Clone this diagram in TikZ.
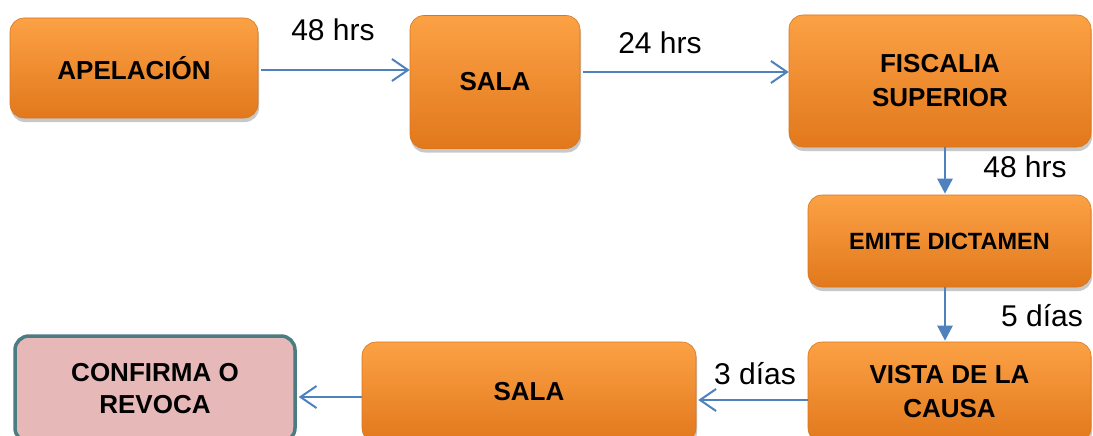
\documentclass[tikz,border=0pt]{standalone}
\usepackage{fontspec}
\setmainfont{Liberation Sans}
\usetikzlibrary{arrows.meta,shadows}
\definecolor{ortop}{HTML}{FCA145}
\definecolor{orbot}{HTML}{E2781C}
\definecolor{oredge}{HTML}{D9761E}
\definecolor{pinkf}{HTML}{E6B9B8}
\definecolor{tealb}{HTML}{4A7D82}
\definecolor{arrblue}{HTML}{4F81BD}
\tikzset{
  obox/.style={rounded corners=14pt, top color=ortop, bottom color=orbot, draw=oredge, line width=0.6pt,
    drop shadow={shadow xshift=1pt, shadow yshift=-4pt, opacity=0.3, fill=black!70},
    align=center, inner sep=0pt, font=\bfseries\fontsize{26}{34}\selectfont},
  pbox/.style={rounded corners=14pt, fill=pinkf, draw=tealb, line width=3.5pt,
    align=center, inner sep=0pt, font=\bfseries\fontsize{26}{32}\selectfont},
  lbl/.style={font=\fontsize{30}{34}\selectfont, inner sep=0pt},
  oarr/.style={draw=arrblue, line width=2pt, -{Straight Barb[length=16pt,width=22pt,line width=2pt]}},
  farr/.style={draw=arrblue, line width=2.5pt, -{Triangle[length=15pt,width=15pt]}}
}
\begin{document}
\begin{tikzpicture}[x=1pt,y=-1pt]
\useasboundingbox (0,0) rectangle (1093,436);
\fill[white] (0,0) rectangle (1093,436);
\node[obox, minimum width=248pt, minimum height=100pt] (apel) at (134,68) {APELACIÓN};
\node[obox, minimum width=170pt, minimum height=133pt] (sala1) at (495,82) {SALA};
\node[obox, minimum width=302pt, minimum height=132pt] (fisc) at (940,81) {FISCALIA\\SUPERIOR};
\node[obox, minimum width=283pt, minimum height=92pt, font=\bfseries\fontsize{23.5}{28}\selectfont] (emite) at (949.5,241) {EMITE DICTAMEN};
\node[obox, minimum width=283pt, minimum height=100pt] (vista) at (949.5,392) {VISTA DE LA\\CAUSA};
\node[obox, minimum width=334pt, minimum height=100pt] (sala2) at (529,392) {SALA};
\node[pbox, minimum width=280pt, minimum height=106pt] (conf) at (155,389) {CONFIRMA O\\REVOCA};
\draw[oarr] ([xshift=3pt,yshift=-2pt]apel.east) -- ([yshift=-2pt]apel.east -| sala1.west);
\draw[oarr] ([xshift=3pt,yshift=10pt]sala1.east) -- ([yshift=10pt]sala1.east -| fisc.west);
\draw[farr] ([xshift=5pt]fisc.south) -- ([xshift=5pt,yshift=1pt]fisc.south |- emite.north);
\draw[farr] ([xshift=-4.5pt]emite.south) -- ([xshift=-4.5pt,yshift=1pt]emite.south |- vista.north);
\draw[oarr] ([yshift=-8pt]vista.west) -- ([yshift=-8pt,xshift=2pt]vista.west -| sala2.east);
\draw[oarr] ([yshift=-5pt]sala2.west) -- ([yshift=-5pt,xshift=2pt]sala2.west -| conf.east);
\node[lbl] (l1) at (333,30) {48 hrs};
\node[lbl] (l2) at (660,43) {24 hrs};
\node[lbl] (l3) at (1025,167) {48 hrs};
\node[lbl] (l4) at (1042,316) {5 días};
\node[lbl] (l5) at (755,374) {3 días};
\end{tikzpicture}
\end{document}
